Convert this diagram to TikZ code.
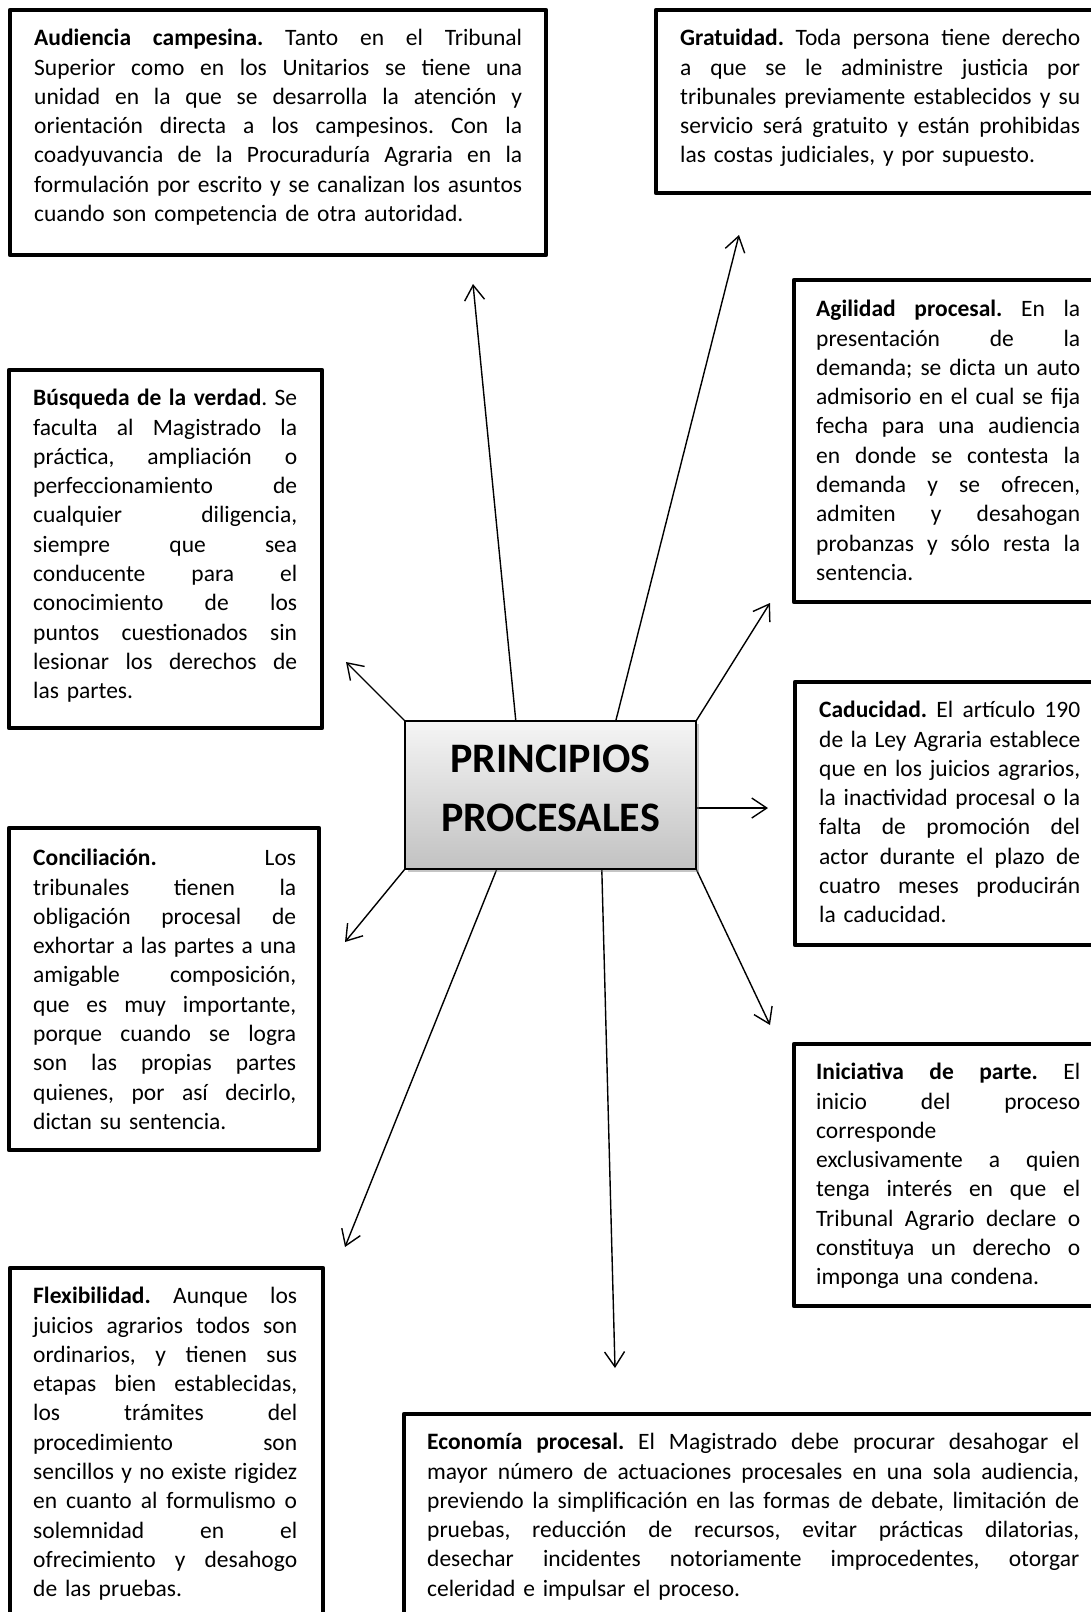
\documentclass[tikz,border=0pt]{standalone}
\usepackage{fontspec}
\setmainfont{Carlito}
\usetikzlibrary{arrows.meta,shadows}
\frenchspacing
\newlength\jw
\newcommand\jl[1]{\leavevmode\hbox to \jw{\spaceskip=0.226em plus 1fil\relax\xspaceskip=\spaceskip #1}\\}
\tikzset{
  frame/.style={draw=black, line width=4.8pt, fill=white, line join=round},
  txt/.style={anchor=north west, inner sep=0pt, align=left, text width=#1,
    font=\fontsize{23.5}{29.3}\selectfont, execute at begin node={\setlength{\jw}{#1}}},
  conn/.style={line width=1.4pt, -{Straight Barb[length=15pt,width=20pt,line width=1.4pt]}},
  hub/.style={draw=black, line width=1.5pt, top color=gray!8, bottom color=gray!48,
    minimum width=291pt, minimum height=148pt, inner sep=0pt,
    drop shadow={shadow xshift=2.5pt, shadow yshift=-2.5pt, opacity=0.45}},
  hubtext/.style={align=center, inner sep=0pt, font=\fontsize{42}{59}\selectfont\bfseries}
}
\begin{document}
\begin{tikzpicture}[x=1pt,y=-1pt]
\useasboundingbox (0,0) rectangle (1091,1612);
\fill[white] (0,0) rectangle (1091,1612);
\clip (0,0) rectangle (1091,1612);

% frames
\draw[frame] (10,10) rectangle (546,255);
\draw[frame] (656,10) rectangle (1105,193);
\draw[frame] (794,280) rectangle (1105,602);
\draw[frame] (9,370) rectangle (322,728);
\draw[frame] (795,682) rectangle (1105,945);
\draw[frame] (9,828) rectangle (319,1150);
\draw[frame] (794,1044) rectangle (1105,1306);
\draw[frame] (10,1268) rectangle (323,1640);
\draw[frame] (404,1414) rectangle (1105,1640);

% texts
\node[txt=488pt] (aud) at (34,25) {%
\jl{\strut\textbf{Audiencia campesina.} Tanto en el Tribunal}
\jl{Superior como en los Unitarios se tiene una}
\jl{unidad en la que se desarrolla la atención y}
\jl{orientación directa a los campesinos. Con la}
\jl{coadyuvancia de la Procuraduría Agraria en la}
\jl{formulación por escrito y se canalizan los asuntos}
cuando son competencia de otra autoridad.};

\node[txt=400pt] (gra) at (680,25) {%
\jl{\strut\textbf{Gratuidad.} Toda persona tiene derecho}
\jl{a que se le administre justicia por}
\jl{tribunales previamente establecidos y su}
\jl{servicio será gratuito y están prohibidas}
las costas judiciales, y por supuesto.};

\node[txt=264pt] (agi) at (816,296) {%
\jl{\strut\textbf{Agilidad procesal.} En la}
\jl{presentación de la}
\jl{demanda; se dicta un auto}
\jl{admisorio en el cual se fija}
\jl{fecha para una audiencia}
\jl{en donde se contesta la}
\jl{demanda y se ofrecen,}
\jl{admiten y desahogan}
\jl{probanzas y sólo resta la}
sentencia.};

\node[txt=264pt] (bus) at (33,385) {%
\jl{\strut\textbf{Búsqueda de la verdad}. Se}
\jl{faculta al Magistrado la}
\jl{práctica, ampliación o}
\jl{perfeccionamiento de}
\jl{cualquier diligencia,}
\jl{siempre que sea}
\jl{conducente para el}
\jl{conocimiento de los}
\jl{puntos cuestionados sin}
\jl{lesionar los derechos de}
las partes.};

\node[txt=261pt] (cad) at (819,697) {%
\jl{\strut\textbf{Caducidad.} El artículo 190}
\jl{de la Ley Agraria establece}
\jl{que en los juicios agrarios,}
\jl{la inactividad procesal o la}
\jl{falta de promoción del}
\jl{actor durante el plazo de}
\jl{cuatro meses producirán}
la caducidad.};

\node[txt=263pt] (con) at (33,845) {%
\jl{\strut\textbf{Conciliación.} Los}
\jl{tribunales tienen la}
\jl{obligación procesal de}
\jl{exhortar a las partes a una}
\jl{amigable composición,}
\jl{que es muy importante,}
\jl{porque cuando se logra}
\jl{son las propias partes}
\jl{quienes, por así decirlo,}
dictan su sentencia.};

\node[txt=264pt] (ini) at (816,1059) {%
\jl{\strut\textbf{Iniciativa de parte.} El}
\jl{inicio del proceso}
corresponde\\
\jl{exclusivamente a quien}
\jl{tenga interés en que el}
\jl{Tribunal Agrario declare o}
\jl{constituya un derecho o}
imponga una condena.};

\node[txt=264pt] (fle) at (33,1283) {%
\jl{\strut\textbf{Flexibilidad.} Aunque los}
\jl{juicios agrarios todos son}
\jl{ordinarios, y tienen sus}
\jl{etapas bien establecidas,}
\jl{los trámites del}
\jl{procedimiento son}
\jl{sencillos y no existe rigidez}
\jl{en cuanto al formulismo o}
\jl{solemnidad en el}
\jl{ofrecimiento y desahogo}
de las pruebas.};

\node[txt=652pt] (eco) at (427,1429) {%
\jl{\strut\textbf{Economía procesal.} El Magistrado debe procurar desahogar el}
\jl{mayor número de actuaciones procesales en una sola audiencia,}
\jl{previendo la simplificación en las formas de debate, limitación de}
\jl{pruebas, reducción de recursos, evitar prácticas dilatorias,}
\jl{desechar incidentes notoriamente improcedentes, otorgar}
celeridad e impulsar el proceso.};

% hub geometry (for anchors) and arrow ends
\path (550.5,795) node[minimum width=291pt, minimum height=148pt, inner sep=0pt] (c) {};
\coordinate (t1) at (473,284);
\coordinate (t2) at (739,235);
\coordinate (t3) at (770,603);
\coordinate (t4) at (346,662);
\coordinate (t5) at (768,808);
\coordinate (t6) at (345,942);
\coordinate (t7) at (345,1247);
\coordinate (t8) at (615,1368);
\coordinate (t9) at (770,1025);

\draw[conn] ([xshift=111pt]c.north west) -- (t1);
\draw[conn] ([xshift=211pt]c.north west) -- (t2);
\draw[conn] (c.north east) -- (t3);
\draw[conn] (c.north west) -- (t4);
\draw[conn] ([yshift=-13pt]c.east) -- (t5);
\draw[conn] (c.south west) -- (t6);
\draw[conn] ([xshift=92pt]c.south west) -- (t7);
\draw[conn] ([xshift=197pt]c.south west) -- (t8);
\draw[conn] (c.south east) -- (t9);

\node[hub] (hubbox) at (c.center) {};
\node[hubtext] (title) at (550.5,788.5) {PRINCIPIOS\\PROCESALES};
\end{tikzpicture}
\end{document}
